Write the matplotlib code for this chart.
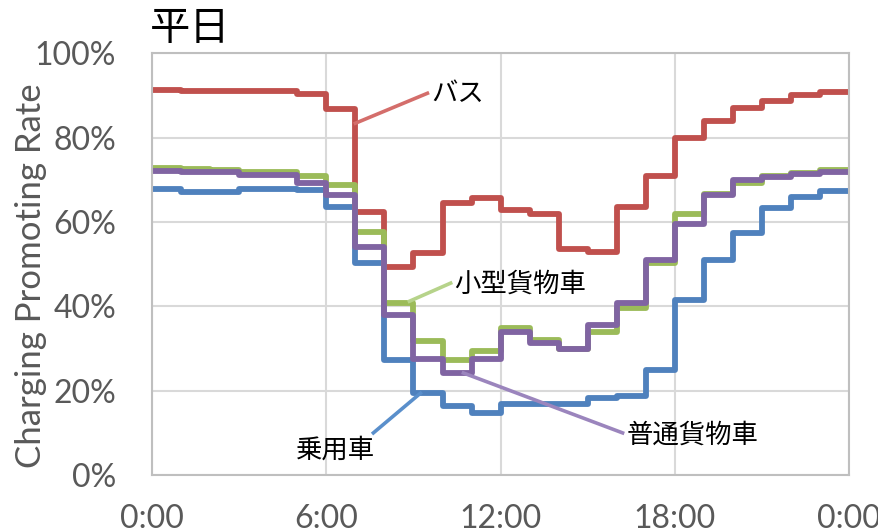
import matplotlib.pyplot as plt
import numpy as np

plt.rcParams['font.family'] = ['Lato', 'Noto Sans CJK JP', 'DejaVu Sans']

# hourly charging-promoting rate (%), weekday
hours = list(range(25))
bus = [91.2, 91.1, 91.0, 91.0, 91.0, 90.4, 86.7, 62.4, 49.4, 52.7, 64.5, 65.6,
       62.8, 62.0, 53.5, 52.9, 63.6, 70.9, 79.9, 83.9, 86.9, 88.7, 90.0, 90.7]
small_truck = [72.7, 72.6, 72.4, 71.9, 71.9, 70.9, 68.7, 57.7, 40.8, 31.8, 27.3, 29.4,
               34.8, 32.0, 30.0, 34.0, 39.7, 50.2, 61.8, 66.7, 69.3, 70.9, 71.5, 72.3]
normal_truck = [72.0, 71.9, 71.8, 71.1, 71.1, 69.3, 66.4, 54.1, 37.9, 27.4, 24.2, 27.4,
                34.0, 31.2, 29.9, 35.5, 40.7, 50.9, 59.6, 66.4, 69.9, 70.7, 71.3, 71.9]
car = [67.7, 67.1, 67.1, 67.9, 67.9, 67.5, 63.6, 50.2, 27.3, 19.5, 16.4, 14.8,
       16.8, 16.9, 16.8, 18.2, 18.8, 25.0, 41.5, 50.9, 57.3, 63.2, 65.8, 67.4]

series = [
    ('乗用車', car, '#4f81bd'),
    ('バス', bus, '#c0504d'),
    ('小型貨物車', small_truck, '#9bbb59'),
    ('普通貨物車', normal_truck, '#8064a2'),
]

fig = plt.figure(figsize=(8.79, 5.32), dpi=100)
ax = fig.add_axes([0.173, 0.107, 0.793, 0.793])

for name, vals, color in series:
    ax.step(hours, np.array(vals + [vals[-1]]) / 100, where='post',
            color=color, lw=4.2, solid_joinstyle='round')

ax.set_xlim(0, 24)
ax.set_ylim(0, 1)
ax.set_xticks([0, 6, 12, 18, 24])
ax.set_xticklabels(['0:00', '6:00', '12:00', '18:00', '0:00'])
ax.set_yticks(np.arange(0, 1.01, 0.2))
ax.set_yticklabels(['%d%%' % v for v in range(0, 101, 20)])
ax.tick_params(length=0, labelsize=23, colors='#595959')
ax.tick_params(axis='x', pad=21)
ax.tick_params(axis='y', pad=26)
ax.grid(color='#d9d9d9', lw=1.5)
ax.set_axisbelow(True)
for s in ax.spines.values():
    s.set_color('#bfbfbf')
    s.set_linewidth(1.5)

fig.text(31 / 879, 0.482, 'Charging Promoting Rate', fontsize=25, color='#595959',
         rotation=90, ha='center', va='center')
fig.text(0.171, 0.947, '平日', fontsize=29, family='Noto Sans CJK JP',
         va='center', ha='left')

# leader-line labels
labels = [
    ('バス', (7.0, 0.834), (9.48, 0.905), (9.6, 0.905), '#d46e6b', 'left'),
    ('小型貨物車', (8.86, 0.412), (10.28, 0.455), (10.4, 0.452), '#b6d38a', 'left'),
    ('普通貨物車', (10.72, 0.242), (16.2, 0.10), (16.35, 0.095), '#9b85bd', 'left'),
    ('乗用車', (9.24, 0.194), (7.62, 0.10), (6.3, 0.059), '#5a8fcb', 'center'),
]
for text, p0, p1, tp, color, ha in labels:
    ax.plot([p0[0], p1[0]], [p0[1], p1[1]], color=color, lw=2.6)
    ax.text(tp[0], tp[1], text, fontsize=19, family='Noto Sans CJK JP',
            ha=ha, va='center')

fig.savefig('out.png', dpi=100)
